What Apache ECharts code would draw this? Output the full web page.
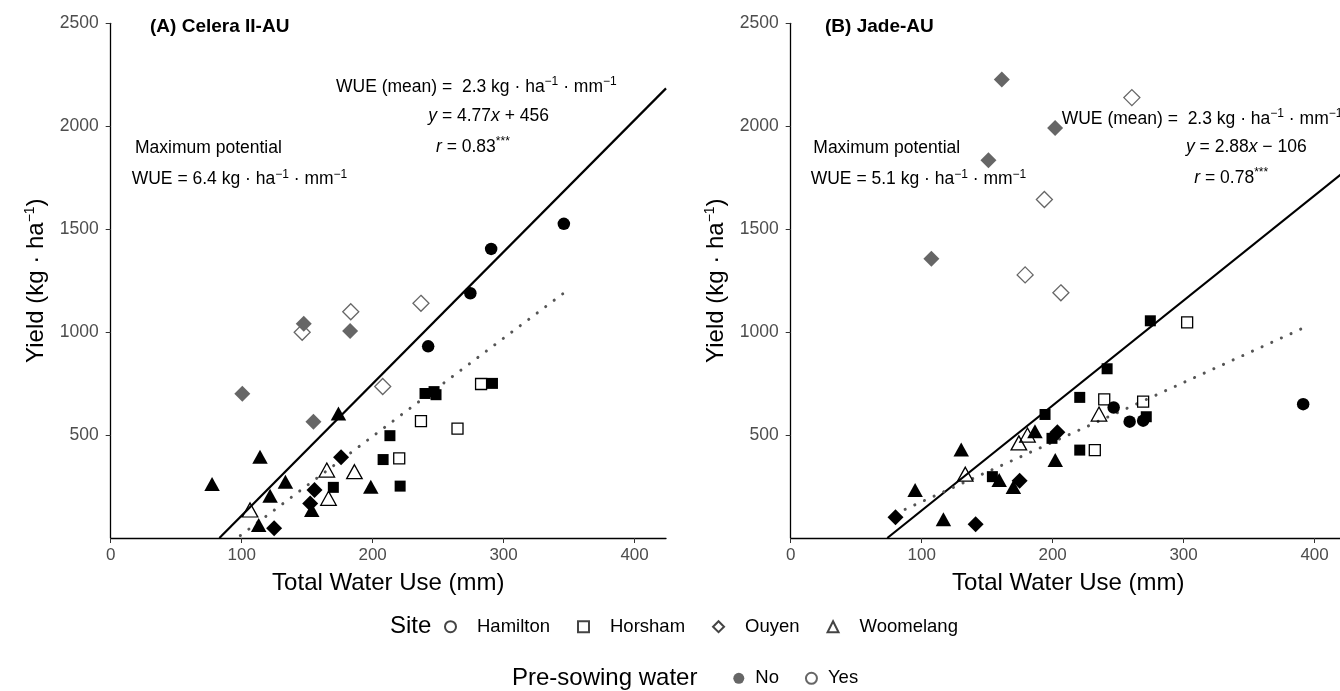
<!DOCTYPE html>
<html>
<head>
<meta charset="utf-8">
<script src="https://cdn.jsdelivr.net/npm/echarts@6/dist/echarts.min.js"></script>
<style>
html, body { margin: 0; padding: 0; background: #fff; }
#chart { width: 1340px; height: 691px; }
</style>
</head>
<body>
<div id="chart"></div>
<script>
var FF = 'Liberation Sans, Arial, Helvetica, sans-serif';

// tick labels
var xTicks = [0, 100, 200, 300, 400];
var yTicks = [500, 1000, 1500, 2000, 2500];

// (A) Celera II-AU  [total water use mm, yield kg/ha]
var celeraHamiltonNo = [[242.4, 931], [274.6, 1189], [290.5, 1404], [346, 1526]];
var celeraHorshamNo = [[170, 246], [208, 381], [213.2, 497], [221, 252], [240, 702], [246.9, 711], [248.4, 696], [291.5, 751]];
var celeraHorshamYes = [[220.3, 387], [236.9, 568], [264.8, 531], [282.8, 748]];
var celeraOuyenGrey = [[100.5, 701], [147.4, 1041], [154.8, 565], [182.8, 1006]];
var celeraOuyenYes = [[146.2, 999], [183.3, 1099], [207.7, 736], [236.9, 1140]];
var celeraOuyenNo = [[124.8, 47], [152.3, 168], [155.6, 233], [175.9, 392]];
var celeraWoomelangNo = [[77.4, 262], [113, 63], [114, 395], [121.7, 205], [133.4, 273], [153.5, 136], [173.9, 605], [198.6, 249]];
var celeraWoomelangYes = [[106.4, 136], [165, 330], [166.3, 193], [186.1, 322]];
var celeraPotential = [[83, 0], [424, 2184]];
var celeraFit = [[99, 12], [346, 1190]];

// (B) Jade-AU
var jadeHamiltonNo = [[246.6, 634], [258.8, 565], [269.1, 570], [391.3, 650]];
var jadeHorshamNo = [[154, 298], [194.2, 600], [199.5, 484], [220.7, 683], [220.7, 427], [241.6, 822], [271.5, 589], [274.6, 1055]];
var jadeHorshamYes = [[232.2, 427], [239.4, 673], [269.1, 662], [302.7, 1047]];
var jadeOuyenGrey = [[107.4, 1356], [151, 1835], [161.2, 2227], [201.9, 1992]];
var jadeOuyenYes = [[179, 1278], [193.7, 1644], [206.3, 1191], [260.5, 2139]];
var jadeOuyenNo = [[80, 101], [141.2, 67], [174.8, 278], [203.6, 514]];
var jadeWoomelangNo = [[95, 233], [116.6, 91], [130.2, 430], [159.2, 282], [170, 248], [186.5, 518], [202, 379]];
var jadeWoomelangYes = [[133.3, 310], [174.2, 462], [180.8, 500], [235.4, 602]];
var jadePotential = [[73.8, 0], [424, 1786]];
var jadeFit = [[80, 118], [390, 1016]];

var chart = echarts.init(document.getElementById('chart'));

var SYM = { circle: 'circle', square: 'rect', diamond: 'diamond', triangle: 'triangle' };
var SIZE = { circle: 12.5, square: 11, diamond: 16, triangle: [15.5, 14] };

function pts(name, g, data, shape, fill, stroke) {
	var style = fill ? { color: fill, opacity: 1 }
		: { color: 'rgba(255,255,255,0)', borderColor: stroke, borderWidth: 1.3, opacity: 1 };
	return {
		name: name,
		type: 'scatter',
		xAxisIndex: g,
		yAxisIndex: g,
		data: data,
		symbol: SYM[shape],
		symbolSize: SIZE[shape],
		itemStyle: style,
		silent: true,
		z: 3
	};
}

function fitLine(name, g, data, dotted) {
	return {
		name: name,
		type: 'line',
		xAxisIndex: g,
		yAxisIndex: g,
		data: data,
		showSymbol: false,
		symbol: 'none',
		silent: true,
		z: 2,
		lineStyle: dotted ? { color: '#555', width: 3, type: [0.1, 10.5], cap: 'round' }
			: { color: '#000', width: 2.2 }
	};
}

// empty series, only used by the legends
function keySeries(name, shape, fill, stroke) {
	return {
		name: name,
		type: 'scatter',
		data: [],
		symbol: SYM[shape],
		itemStyle: fill ? { color: fill, opacity: 1 } : { color: 'rgba(255,255,255,0)', borderColor: stroke, borderWidth: 1.1, opacity: 1 }
	};
}

function xAx(g) {
	return {
		type: 'value', gridIndex: g, min: 0, max: 424,
		axisLine: { show: true, onZero: false, lineStyle: { color: '#000', width: 1.3 } },
		axisTick: { show: true, length: 5, lineStyle: { color: '#333', width: 1 }, customValues: xTicks },
		axisLabel: { customValues: xTicks, margin: 9, fontSize: 17, color: '#4d4d4d', fontFamily: FF,
			formatter: function (v) { return String(v); } },
		splitLine: { show: false },
		name: 'Total Water Use (mm)', nameLocation: 'middle', nameGap: 33,
		nameTextStyle: { fontSize: 24, color: '#000', fontFamily: FF }
	};
}

function yAx(g) {
	return {
		type: 'value', gridIndex: g, min: 0, max: 2500,
		axisLine: { show: true, onZero: false, lineStyle: { color: '#000', width: 1.3 } },
		axisTick: { show: true, length: 5, lineStyle: { color: '#333', width: 1 }, customValues: yTicks },
		axisLabel: { customValues: yTicks, margin: 12, fontSize: 17.5, color: '#4d4d4d', fontFamily: FF,
			formatter: function (v) { return String(v); } },
		splitLine: { show: false },
		name: '{a|Yield (kg · ha}{s|−1}{a|)}', nameLocation: 'middle', nameGap: 60,
		nameTextStyle: {
			rich: {
				a: { fontSize: 24, fontFamily: FF, color: '#000', lineHeight: 28 },
				s: { fontSize: 14, fontFamily: FF, color: '#000', lineHeight: 14, verticalAlign: 'top' }
			}
		}
	};
}

var RICH = {
	t: { fontSize: 17.5, fontFamily: FF, fill: '#000', lineHeight: 22 },
	i: { fontSize: 17.5, fontFamily: FF, fill: '#000', fontStyle: 'italic', lineHeight: 22 },
	s: { fontSize: 12, fontFamily: FF, fill: '#000', lineHeight: 12, verticalAlign: 'top' },
	b: { fontSize: 19, fontFamily: FF, fill: '#000', fontWeight: 'bold', lineHeight: 22 }
};

function note(x, y, text) {
	return {
		type: 'text', x: x, y: y, silent: true,
		style: { text: text, rich: RICH, fill: '#000', fontSize: 17.5, fontFamily: FF, align: 'left', verticalAlign: 'middle' }
	};
}

var wueMean = '{t|WUE (mean) =  2.3 kg · ha}{s|−1}{t| · mm}{s|−1}';

option = {
	backgroundColor: '#fff',
	animation: false,
	grid: [
		{ left: 110.7, top: 23.3, width: 555.3, height: 514.7, outerBoundsMode: 'none', containLabel: false },
		{ left: 790.7, top: 23.3, width: 555.3, height: 514.7, outerBoundsMode: 'none', containLabel: false }
	],
	xAxis: [xAx(0), xAx(1)],
	yAxis: [yAx(0), yAx(1)],
	legend: [{
		data: [
			{ name: 'Hamilton', icon: 'circle' },
			{ name: 'Horsham', icon: 'rect' },
			{ name: 'Ouyen', icon: 'diamond' },
			{ name: 'Woomelang', icon: 'triangle' }
		],
		left: 444, top: 615.7, padding: 0, itemWidth: 11, itemHeight: 11, itemGap: 27,
		selectedMode: false,
		textStyle: { fontSize: 18.5, fontFamily: FF, color: '#000', lineHeight: 22, padding: [0, 0, 0, 16] }
	}, {
		data: [{ name: 'No', icon: 'circle' }, { name: 'Yes', icon: 'circle' }],
		left: 733.3, top: 667.3, padding: 0, itemWidth: 11, itemHeight: 11, itemGap: 26,
		selectedMode: false,
		textStyle: { fontSize: 18.5, fontFamily: FF, color: '#000', lineHeight: 22, padding: [0, 0, 0, 6] }
	}],
	graphic: [
		note(150, 27, '{b|(A) Celera II-AU}'),
		note(336, 86.7, wueMean),
		note(428.3, 115.7, '{i|y}{t| = 4.77}{i|x}{t| + 456}'),
		note(436, 146.7, '{i|r}{t| = 0.83}{s|***}'),
		note(135, 148.3, '{t|Maximum potential}'),
		note(131.7, 179.3, '{t|WUE = 6.4 kg · ha}{s|−1}{t| · mm}{s|−1}'),
		note(825, 27, '{b|(B) Jade-AU}'),
		note(1061.7, 119, wueMean),
		note(1186, 146.7, '{i|y}{t| = 2.88}{i|x}{t| − 106}'),
		note(1194.3, 177.7, '{i|r}{t| = 0.78}{s|***}'),
		note(813.3, 148.3, '{t|Maximum potential}'),
		note(810.7, 179.3, '{t|WUE = 5.1 kg · ha}{s|−1}{t| · mm}{s|−1}'),
		{ type: 'text', x: 390, y: 626.7, silent: true, style: { text: 'Site', fontSize: 24, fontFamily: FF, fill: '#000', verticalAlign: 'middle' } },
		{ type: 'text', x: 512, y: 678.3, silent: true, style: { text: 'Pre-sowing water', fontSize: 24, fontFamily: FF, fill: '#000', verticalAlign: 'middle' } }
	],
	series: [
		fitLine('celeraPotential', 0, celeraPotential, false),
		fitLine('celeraFit', 0, celeraFit, true),
		pts('celeraOuyenGrey', 0, celeraOuyenGrey, 'diamond', '#666'),
		pts('celeraOuyenYes', 0, celeraOuyenYes, 'diamond', null, '#666'),
		pts('celeraOuyenNo', 0, celeraOuyenNo, 'diamond', '#000'),
		pts('celeraWoomelangNo', 0, celeraWoomelangNo, 'triangle', '#000'),
		pts('celeraWoomelangYes', 0, celeraWoomelangYes, 'triangle', null, '#000'),
		pts('celeraHorshamNo', 0, celeraHorshamNo, 'square', '#000'),
		pts('celeraHorshamYes', 0, celeraHorshamYes, 'square', null, '#000'),
		pts('celeraHamiltonNo', 0, celeraHamiltonNo, 'circle', '#000'),

		fitLine('jadePotential', 1, jadePotential, false),
		fitLine('jadeFit', 1, jadeFit, true),
		pts('jadeOuyenGrey', 1, jadeOuyenGrey, 'diamond', '#666'),
		pts('jadeOuyenYes', 1, jadeOuyenYes, 'diamond', null, '#666'),
		pts('jadeOuyenNo', 1, jadeOuyenNo, 'diamond', '#000'),
		pts('jadeWoomelangNo', 1, jadeWoomelangNo, 'triangle', '#000'),
		pts('jadeWoomelangYes', 1, jadeWoomelangYes, 'triangle', null, '#000'),
		pts('jadeHorshamNo', 1, jadeHorshamNo, 'square', '#000'),
		pts('jadeHorshamYes', 1, jadeHorshamYes, 'square', null, '#000'),
		pts('jadeHamiltonNo', 1, jadeHamiltonNo, 'circle', '#000'),

		keySeries('Hamilton', 'circle', null, '#444'),
		keySeries('Horsham', 'square', null, '#444'),
		keySeries('Ouyen', 'diamond', null, '#444'),
		keySeries('Woomelang', 'triangle', null, '#444'),
		keySeries('No', 'circle', '#666'),
		keySeries('Yes', 'circle', null, '#666')
	]
};
chart.setOption(option);
</script>
</body>
</html>
